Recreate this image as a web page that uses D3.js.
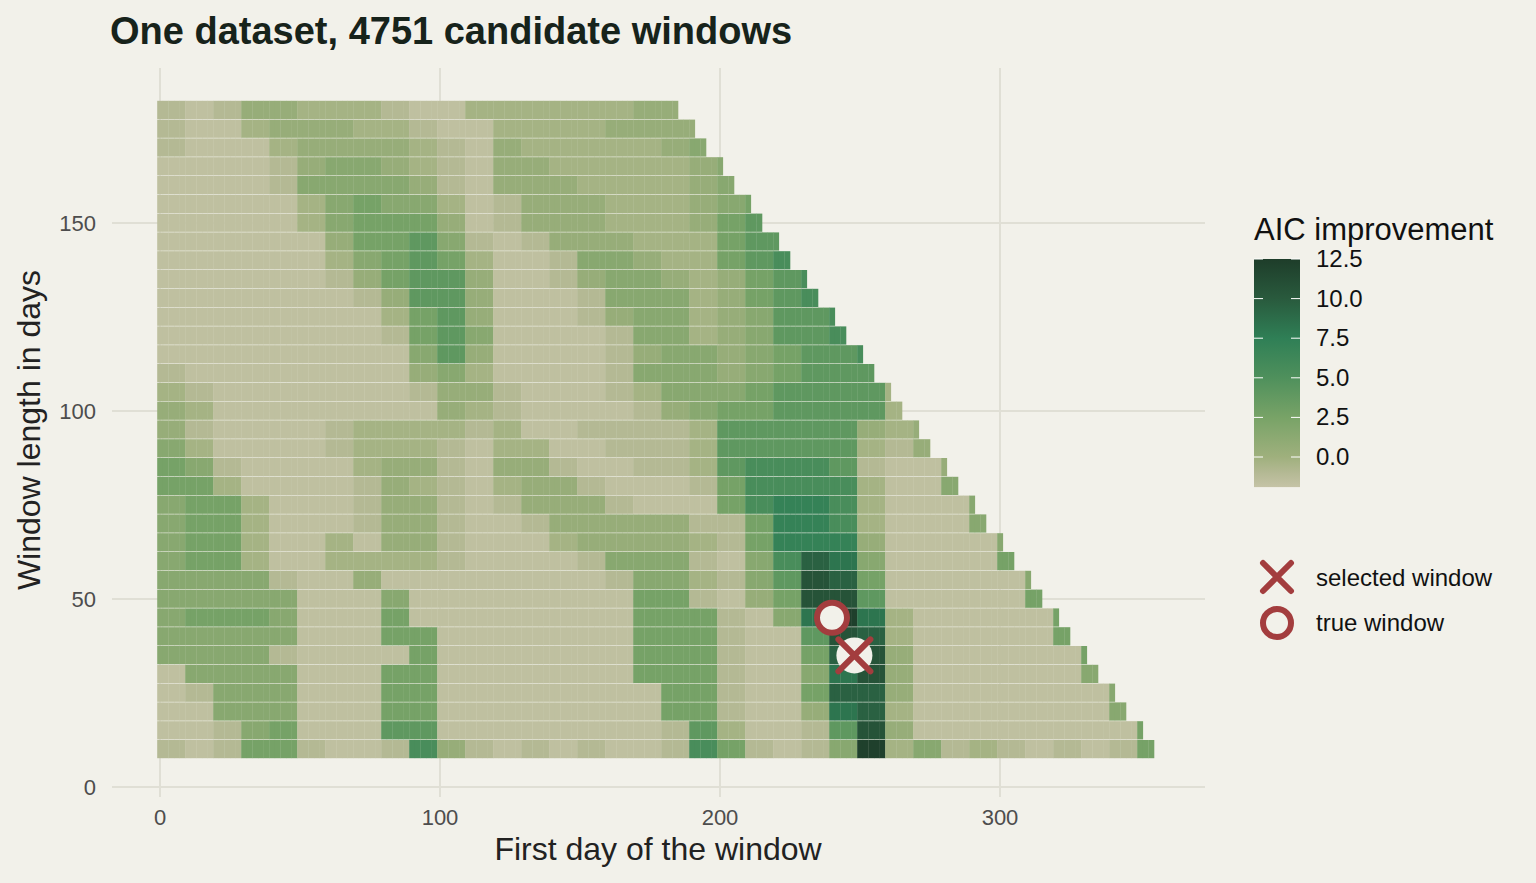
<!DOCTYPE html>
<html>
<head>
<meta charset="utf-8">
<script src="https://cdn.jsdelivr.net/npm/d3@7"></script>
<style>
  body { margin: 0; background: #f2f1ea; }
  text { font-family: "Liberation Sans", Arial, sans-serif; }
</style>
</head>
<body>
<svg id="chart" width="1536" height="883"></svg>
<script>
// window lengths, one row each (top to bottom)
const lengths = [180,175,170,165,160,155,150,145,140,135,130,125,120,115,110,105,100,
                 95,90,85,80,75,70,65,60,55,50,45,40,35,30,25,20,15,10];

// AIC improvement per 10-day block of first day.
// one character per block, decoded with codeValues below
const rows = [
  "21244 33321 13333 334",
  "21134 44332 11333 34444",
  "21113 44443 21433 33345",
  "11112 45543 21443 33334 5",
  "11112 55554 21444 33334 5",
  "11111 35655 31244 43334 56",
  "11111 35666 41244 43334 67",
  "11111 14667 52124 44333 677",
  "11111 13567 63112 55433 678",
  "11111 12467 74112 45543 4678",
  "11111 11247 74111 25553 4678",
  "11111 11136 74111 24553 45778",
  "11111 11126 75111 12553 45778",
  "11111 11115 74111 12455 456778",
  "21111 11114 53111 12555 456777",
  "32111 11112 44211 12355 56777 73",
  "43111 11111 43211 11245 66777 73",
  "42111 12333 32311 22223 77777 434",
  "53111 12333 21331 12223 77777 324",
  "65211 11344 21442 11223 78887 2114",
  "66311 11243 21344 21112 68888 3115",
  "56631 11244 21244 42111 68998 31115",
  "56631 11244 21124 44442 26998 31115",
  "56631 13144 21113 44443 26999 411115",
  "56631 13333 21111 25552 158ba 511116",
  "55552 11411 11111 12553 257cb 6111115",
  "55555 11151 11111 11662 146cc 7111116",
  "56665 11161 11111 11666 215ad a3111116",
  "55555 11166 11111 11666 2117c b3111116",
  "55552 11116 11111 11666 2116b c41111116",
  "15555 11166 11111 11666 2115a c41111115",
  "12555 11166 11111 11166 2116b b411111115",
  "11555 11166 11111 11166 2114a b311111115",
  "11256 11177 11111 11127 31127 c4111111116",
  "21266 21128 42121 21128 62125 d3523212126"
];
const codes = "0123456789abcd";
const codeValues = [-1.9, -1.6, -1.0, -0.3, 0.5, 1.5, 2.6, 4.0, 5.5, 7.0, 8.2, 9.5, 10.6, 12.2];

const xTicks = [0, 100, 200, 300];
const yTicks = [0, 50, 100, 150];
const legendTicks = [0, 2.5, 5, 7.5, 10, 12.5];
const colorStops = [-1.9, -1, 0, 2.5, 5, 7.5, 10, 12.5];
const colorValues = ["#c5c3a6", "#b4b994", "#9fb07d", "#78a367", "#4f905c", "#2f7f56", "#295a3d", "#1e3d2a"];
const selectedWindow = { start: 248, length: 35 };
const trueWindow = { start: 240, length: 45 };
const yearDays = 365;
const dayStep = 2;
const blockDays = 10;

// decode rows into cells
const cells = [];
rows.forEach((r, i) => {
  const s = r.replace(/ /g, "");
  const L = lengths[i];
  for (let d = 0; d + L <= yearDays; d += dayStep) {
    const ch = s[Math.min(Math.floor(d / blockDays), s.length - 1)];
    cells.push({ start: d, length: L, value: codeValues[codes.indexOf(ch)] });
  }
});

const svg = d3.select("#chart");
const red = "#a33d3e";
const bg = "#f2f1ea";

const x = d3.scaleLinear().domain([0, 300]).range([160, 1000]);
const y = d3.scaleLinear().domain([0, 150]).range([787, 223]);
const color = d3.scaleLinear().domain(colorStops).range(colorValues).clamp(true);

const plot = { left: 112, right: 1205, top: 68, bottom: 797 };

// grid
svg.append("g").selectAll("line").data(xTicks).join("line")
  .attr("x1", d => x(d)).attr("x2", d => x(d))
  .attr("y1", plot.top).attr("y2", plot.bottom)
  .attr("stroke", "#e0dfd5").attr("stroke-width", 2);
svg.append("g").selectAll("line").data(yTicks).join("line")
  .attr("y1", d => y(d)).attr("y2", d => y(d))
  .attr("x1", plot.left).attr("x2", plot.right)
  .attr("stroke", "#e0dfd5").attr("stroke-width", 2);

// tiles
const tileW = x(dayStep) - x(0);
const tileH = y(0) - y(5);
svg.append("g").selectAll("rect").data(cells).join("rect")
  .attr("x", d => x(d.start - dayStep / 2))
  .attr("y", d => y(d.length + 2.5))
  .attr("width", tileW + 0.3)
  .attr("height", tileH - 0.6)
  .attr("fill", d => color(d.value));

// markers
svg.append("circle")
  .attr("cx", x(selectedWindow.start)).attr("cy", y(selectedWindow.length))
  .attr("r", 18).attr("fill", bg);
const cross = (g, cx, cy, a) => {
  g.append("path")
    .attr("d", `M${cx - a},${cy - a}L${cx + a},${cy + a}M${cx - a},${cy + a}L${cx + a},${cy - a}`)
    .attr("stroke", red).attr("stroke-width", 6).attr("stroke-linecap", "round").attr("fill", "none");
};
cross(svg, x(selectedWindow.start), y(selectedWindow.length), 16);
svg.append("circle")
  .attr("cx", x(trueWindow.start)).attr("cy", y(trueWindow.length))
  .attr("r", 15).attr("fill", bg).attr("stroke", red).attr("stroke-width", 6);

// axes labels
svg.append("g").selectAll("text").data(xTicks).join("text")
  .attr("x", d => x(d)).attr("y", 825).attr("text-anchor", "middle")
  .attr("font-size", 22).attr("fill", "#4d4d4d").text(d => d);
svg.append("g").selectAll("text").data(yTicks).join("text")
  .attr("x", 96).attr("y", d => y(d) + 8).attr("text-anchor", "end")
  .attr("font-size", 22).attr("fill", "#4d4d4d").text(d => d);

svg.append("text").attr("x", 658).attr("y", 860).attr("text-anchor", "middle")
  .attr("font-size", 32).attr("fill", "#222").text("First day of the window");
svg.append("text").attr("transform", "translate(40,430) rotate(-90)").attr("text-anchor", "middle")
  .attr("font-size", 32).attr("fill", "#222").text("Window length in days");

svg.append("text").attr("x", 110).attr("y", 44)
  .attr("font-size", 38).attr("font-weight", "bold").attr("fill", "#17231b")
  .text("One dataset, 4751 candidate windows");

// legend colour bar
const ly = d3.scaleLinear().domain([0, 12.5]).range([457, 259]);
const defs = svg.append("defs");
const grad = defs.append("linearGradient").attr("id", "aic").attr("x1", 0).attr("x2", 0).attr("y1", 1).attr("y2", 0);
colorStops.forEach((v, i) => {
  grad.append("stop").attr("offset", (v - (-1.9)) / (12.5 + 1.9)).attr("stop-color", colorValues[i]);
});
svg.append("rect").attr("x", 1254).attr("y", ly(12.5)).attr("width", 46)
  .attr("height", ly(-1.9) - ly(12.5)).attr("fill", "url(#aic)");
svg.append("g").selectAll("line").data(legendTicks).join("line")
  .attr("x1", 1254).attr("x2", 1263).attr("y1", d => ly(d)).attr("y2", d => ly(d))
  .attr("stroke", "#fff").attr("stroke-width", 1);
svg.append("g").selectAll("line").data(legendTicks).join("line")
  .attr("x1", 1291).attr("x2", 1300).attr("y1", d => ly(d)).attr("y2", d => ly(d))
  .attr("stroke", "#fff").attr("stroke-width", 1);
svg.append("g").selectAll("text").data(legendTicks).join("text")
  .attr("x", 1316).attr("y", d => ly(d) + 8)
  .attr("font-size", 24).attr("fill", "#111").text(d => d.toFixed(1));
svg.append("text").attr("x", 1254).attr("y", 240)
  .attr("font-size", 31).attr("fill", "#111").text("AIC improvement");

// symbol legend
cross(svg, 1277, 577, 14);
svg.append("circle").attr("cx", 1277).attr("cy", 623).attr("r", 14)
  .attr("fill", "none").attr("stroke", red).attr("stroke-width", 6);
svg.append("text").attr("x", 1316).attr("y", 586).attr("font-size", 24).attr("fill", "#111").text("selected window");
svg.append("text").attr("x", 1316).attr("y", 631).attr("font-size", 24).attr("fill", "#111").text("true window");
</script>
</body>
</html>
